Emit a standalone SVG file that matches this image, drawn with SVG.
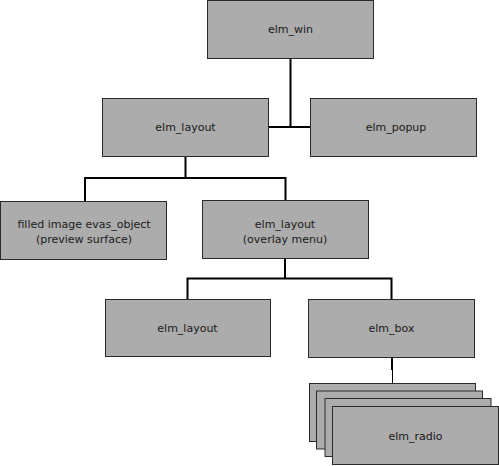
<svg xmlns="http://www.w3.org/2000/svg" width="499" height="466" viewBox="0 0 499 466">
<style>
.box{fill:#acacac;stroke:#2a2a2a;stroke-width:1}
.lbl{font-family:"DejaVu Sans",sans-serif;font-size:11px;fill:#1a1a1a;text-anchor:middle}
.con{fill:none;stroke:#000;stroke-width:2}
</style>
<rect width="499" height="466" fill="#fff"/>
<g id="connectors">
<path class="con" d="M290.5,58.5 V127 M268.5,127 H310.5"/>
<path class="con" d="M185.5,156.5 V178 M85,178 H285.5 M85,177 V201 M285.5,177 V200"/>
<path class="con" d="M285,258.5 V278.5 M187.5,278.5 H391.5 M187.5,277.5 V299 M391.5,277.5 V299"/>
<path class="con" d="M392,357.5 V370"/>
<path fill="none" stroke="#000" stroke-width="1" d="M392.5,369 V384"/>
</g>
<g id="elm_win"><rect class="box" x="207.5" y="0.5" width="166" height="58"/><text class="lbl" x="290.5" y="33">elm_win</text></g>
<g id="elm_layout_top"><rect class="box" x="102.5" y="98.5" width="166" height="58"/><text class="lbl" x="185.5" y="130.5">elm_layout</text></g>
<g id="elm_popup"><rect class="box" x="310.5" y="98.5" width="166" height="58"/><text class="lbl" x="396" y="130.5">elm_popup</text></g>
<g id="filled_image"><rect class="box" x="0.5" y="201.5" width="166" height="58"/><text class="lbl" x="84" y="228">filled image evas_object</text><text class="lbl" x="84" y="243">(preview surface)</text></g>
<g id="elm_layout_overlay"><rect class="box" x="202.5" y="200.5" width="166" height="58"/><text class="lbl" x="285" y="227.5">elm_layout</text><text class="lbl" x="285" y="243">(overlay menu)</text></g>
<g id="elm_layout_bottom"><rect class="box" x="105.5" y="299.5" width="165" height="57"/><text class="lbl" x="187.5" y="331.5">elm_layout</text></g>
<g id="elm_box"><rect class="box" x="308.5" y="299.5" width="166" height="58"/><text class="lbl" x="391.5" y="331.5">elm_box</text></g>
<g id="elm_radio">
<rect class="box" x="309.5" y="383.5" width="166" height="58"/>
<rect class="box" x="316.5" y="391" width="166" height="58"/>
<rect class="box" x="325" y="398.5" width="166" height="58"/>
<rect class="box" x="332.5" y="406.5" width="166" height="58"/>
<text class="lbl" x="415.5" y="440">elm_radio</text>
</g>
</svg>
